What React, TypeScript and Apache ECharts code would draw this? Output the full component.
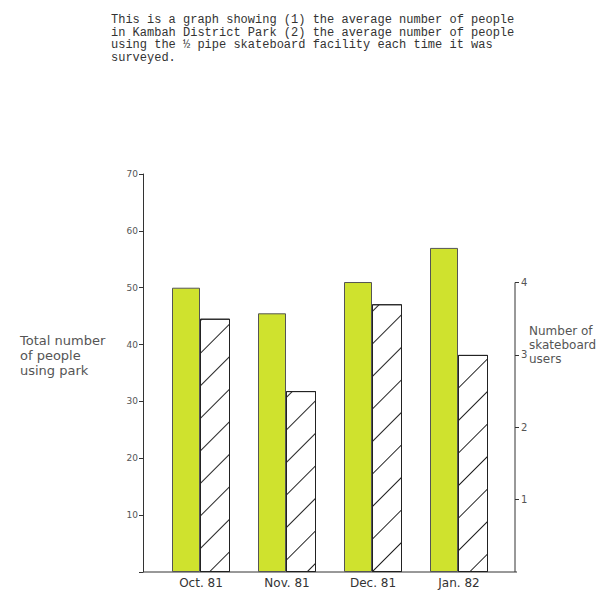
import React, { useEffect, useRef } from "react";
import * as echarts from "echarts";

const categories = ["Oct. 81", "Nov. 81", "Dec. 81", "Jan. 82"];
const parkPeople = [50, 45.5, 51, 57];
const skateUsers = [3.5, 2.5, 3.7, 3.0];
const rightTickValues = [1, 2, 3, 4];

const titleLines = [
  "This is a graph showing (1) the average number of people",
  "in Kambah District Park (2) the average number of people",
  "using the \u00bd pipe skateboard facility each time it was",
  "surveyed.",
];
const leftNameLines = ["Total number", "of people", "using park"];
const rightNameLines = ["Number of", "skateboard", "users"];

const hand = "'DejaVu Sans', sans-serif";

export default function App() {
  const ref = useRef<HTMLDivElement>(null);
  useEffect(() => {
    const chart = echarts.init(ref.current!, null, { renderer: "svg" });
    const option: any = {
      animation: false,
      backgroundColor: "#fff",
      title: {
        text: titleLines.join("\n"),
        left: 106,
        top: 9,
        textStyle: {
          fontFamily: "'Liberation Mono', monospace",
          fontSize: 12,
          lineHeight: 12.5,
          fontWeight: "normal",
          color: "#333",
        },
      },
      grid: { left: 158, right: 98, top: 174, bottom: 29 },
      xAxis: {
        type: "category",
        data: categories,
        axisLine: { show: false },
        axisTick: { show: false },
        axisLabel: { margin: 5, color: "#333", fontFamily: hand, fontSize: 12 },
      },
      yAxis: [
        {
          type: "value",
          min: 0,
          max: 70,
          interval: 10,
          offset: 15,
          splitLine: { show: false },
          axisLine: { show: true, lineStyle: { color: "#333", width: 1 } },
          axisTick: { show: true, length: 4, lineStyle: { color: "#333" } },
          axisLabel: {
            color: "#555",
            fontFamily: hand,
            fontSize: 9,
            margin: 5,
            formatter: (v: number) => (v === 0 ? "" : String(v)),
          },
        },
        {
          type: "value",
          min: 0,
          max: 5.5,
          interval: 1,
          offset: 13,
          position: "right",
          splitLine: { show: false },
          axisLine: { show: false },
          axisTick: {
            show: true,
            length: 4,
            customValues: rightTickValues,
            lineStyle: { color: "#333" },
          },
          axisLabel: {
            color: "#555",
            fontFamily: hand,
            fontSize: 10,
            margin: 6,
            customValues: rightTickValues,
          },
        },
      ],
      series: [
        {
          type: "bar",
          name: "park",
          data: parkPeople,
          yAxisIndex: 0,
          barWidth: 28,
          barGap: "0%",
          itemStyle: { color: "#cfe22e", borderColor: "#555", borderWidth: 1 },
        },
        {
          type: "bar",
          name: "skate",
          data: skateUsers,
          yAxisIndex: 1,
          barWidth: 30,
          itemStyle: {
            color: "#fff",
            borderColor: "#222",
            borderWidth: 1,
            decal: {
              symbol: "rect",
              symbolSize: 1,
              color: "#222",
              dashArrayX: [1, 0],
              dashArrayY: [1, 22],
              rotation: -Math.PI / 4,
            },
          },
        },
      ],
    };
    chart.setOption(option);

    const y0 = chart.convertToPixel({ yAxisIndex: 1 }, 0) as number;
    const y4 = chart.convertToPixel({ yAxisIndex: 1 }, 4) as number;
    const xl = 143;
    const xr = 515;
    const mkLines = (lines: string[], left: number, top: number, lh: number, size: number) =>
      lines.map((t, i) => ({
        type: "text",
        left,
        top: top + i * lh,
        style: { text: t, fill: "#555", font: `${size}px ${hand}` },
      }));
    chart.setOption({
      graphic: [
        { type: "line", shape: { x1: xl, y1: y0, x2: xr + 2, y2: y0 }, style: { stroke: "#333", lineWidth: 1 } },
        { type: "line", shape: { x1: xr, y1: y0, x2: xr, y2: y4 }, style: { stroke: "#333", lineWidth: 1 } },
        ...mkLines(leftNameLines, 20, 334, 15, 13),
        ...mkLines(rightNameLines, 529, 325, 14, 12),
      ],
    });
    return () => chart.dispose();
  }, []);
  return (
    <div
      ref={ref}
      style={{ position: "fixed", left: 0, top: 0, width: 600, height: 601 }}
    />
  );
}
